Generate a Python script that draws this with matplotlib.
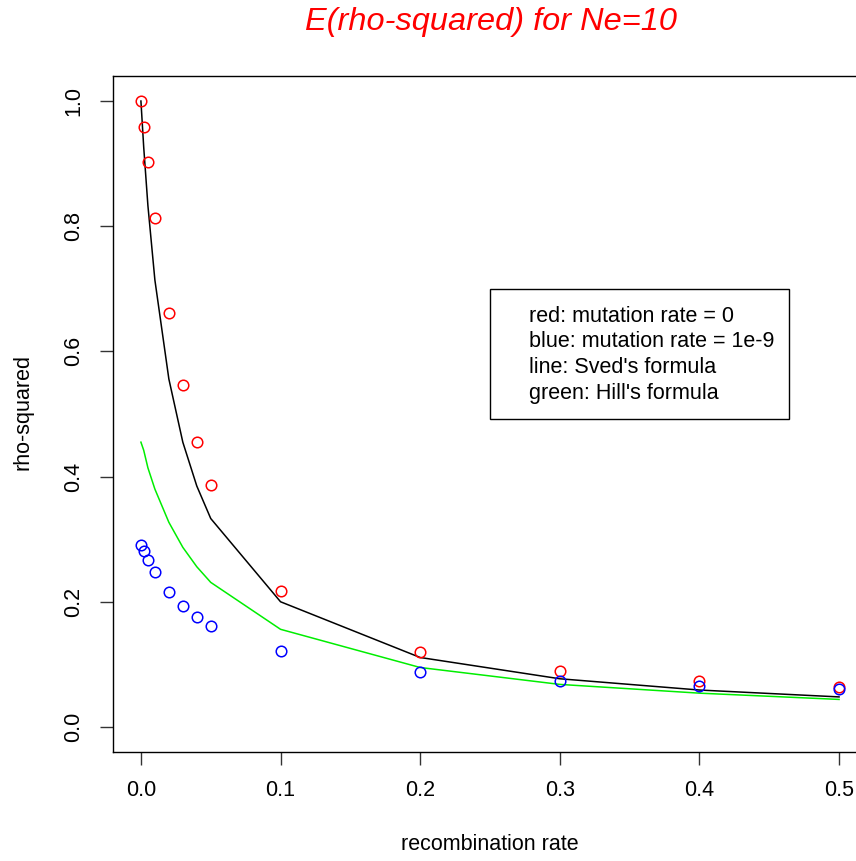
import matplotlib
matplotlib.use("Agg")
import matplotlib.pyplot as plt
from matplotlib.patches import Rectangle

plt.rcParams['font.family'] = ['Liberation Sans', 'DejaVu Sans']

recomb = [0, 0.002, 0.005, 0.01, 0.02, 0.03, 0.04, 0.05, 0.1, 0.2, 0.3, 0.4, 0.5]
red_mu0 = [1.0, 0.958, 0.902, 0.813, 0.662, 0.546, 0.456, 0.387, 0.217, 0.120, 0.090, 0.074, 0.064]
blue_mu = [0.291, 0.281, 0.266, 0.247, 0.216, 0.193, 0.176, 0.162, 0.122, 0.088, 0.074, 0.066, 0.060]
sved = [1.0, 0.926, 0.833, 0.714, 0.556, 0.455, 0.385, 0.333, 0.200, 0.111, 0.077, 0.059, 0.048]
hill = [0.455, 0.442, 0.414, 0.380, 0.327, 0.287, 0.256, 0.231, 0.156, 0.095, 0.068, 0.054, 0.044]
xticks = [0.0, 0.1, 0.2, 0.3, 0.4, 0.5]
yticks = [0.0, 0.2, 0.4, 0.6, 0.8, 1.0]
legend_lines = ["red: mutation rate = 0", "blue: mutation rate = 1e-9",
                "line: Sved's formula", "green: Hill's formula"]

W, H = 856, 861
fig = plt.figure(figsize=(W / 100, H / 100), dpi=100)
left, right, top, bottom = 113, 867, 76, 752
ax = fig.add_axes([left / W, 1 - bottom / H, (right - left) / W, (bottom - top) / H])
ax.set_xlim(-0.02, 0.52)
ax.set_ylim(-0.04, 1.04)

ax.plot(recomb, sved, color='black', lw=1.1)
ax.plot(recomb, hill, color='#00ee00', lw=1.1)
ax.plot(recomb, red_mu0, 'o', mfc='none', mec='red', ms=7.6, mew=1.1)
ax.plot(recomb, blue_mu, 'o', mfc='none', mec='blue', ms=7.6, mew=1.1)

for s in ax.spines.values():
    s.set_linewidth(1.0)
    s.set_color('black')
ax.set_xticks(xticks)
ax.set_xticklabels([f"{v:.1f}" for v in xticks])
ax.set_yticks(yticks)
ax.set_yticklabels([f"{v:.1f}" for v in yticks], rotation=90, va='center')
ax.tick_params(axis='both', length=9.5, width=1.0, labelsize=15.5, pad=11, color='#333333')

fig.text(491 / W, 1 - 22 / H, "E(rho-squared) for Ne=10", color='red', fontsize=23.4,
         style='italic', ha='center', va='center')
fig.text(490 / W, 1 - 845 / H, "recombination rate", fontsize=15.5, ha='center', va='center')
fig.text(23 / W, 1 - 412 / H, "rho-squared", fontsize=15.5, ha='center', va='center', rotation=90)

fig.patches.append(Rectangle((490 / W, 1 - 419 / H), (789 - 490) / W, (419 - 289) / H,
                             transform=fig.transFigure, fill=False, ec='black', lw=1.0))
for i, t in enumerate(legend_lines):
    fig.text(529 / W, 1 - (316 + 25.8 * i) / H, t, fontsize=15.5, ha='left', va='center')

fig.savefig("out.png", dpi=100)
